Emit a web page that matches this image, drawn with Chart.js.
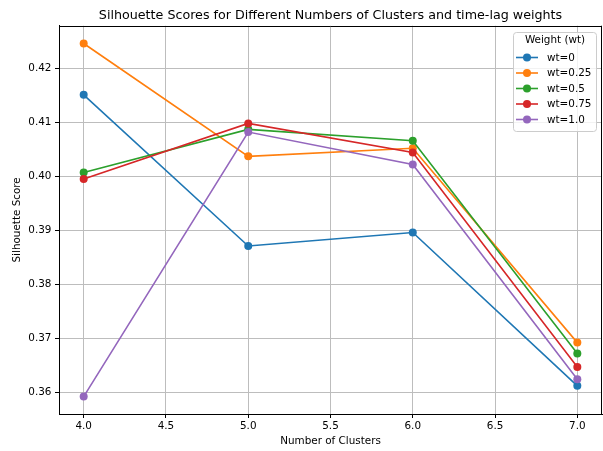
<!DOCTYPE html>
<html>
<head>
<meta charset="utf-8">
<title>Silhouette Scores</title>
<script src="https://cdn.jsdelivr.net/npm/chart.js@4/dist/chart.umd.min.js"></script>
<style>
  html, body { margin: 0; padding: 0; background: #fff; overflow: hidden; }
  #wrap { width: 606px; height: 451px; }
</style>
</head>
<body>
<div id="wrap"><canvas id="scoreChart" width="606" height="451"></canvas></div>
<script>
// Cluster counts and silhouette scores per time-lag weight
const clusters = [4, 5, 6, 7];
const wt0   = [0.4151, 0.3871, 0.3896, 0.3612];
const wt025 = [0.4246, 0.4037, 0.4052, 0.3692];
const wt05  = [0.4007, 0.4087, 0.4066, 0.3672];
const wt075 = [0.3995, 0.4098, 0.4044, 0.3647];
const wt10  = [0.3592, 0.4082, 0.4022, 0.3624];

const seriesLabels = ['wt=0', 'wt=0.25', 'wt=0.5', 'wt=0.75', 'wt=1.0'];
const seriesColors = ['#1f77b4', '#ff7f0e', '#2ca02c', '#d62728', '#9467bd'];

const xTicks = [4.0, 4.5, 5.0, 5.5, 6.0, 6.5, 7.0];
const yTicks = [0.36, 0.37, 0.38, 0.39, 0.40, 0.41, 0.42];

const FONT = "'DejaVu Sans', sans-serif";
const SMALL = 10.4;

const allSeries = [wt0, wt025, wt05, wt075, wt10];

const datasets = allSeries.map((vals, i) => ({
    label: seriesLabels[i],
    data: clusters.map((c, j) => ({ x: c, y: vals[j] })),
    borderColor: seriesColors[i],
    backgroundColor: seriesColors[i],
    borderWidth: 1.6,
    pointRadius: 4,
    pointBorderWidth: 0,
    pointHoverRadius: 4,
    tension: 0,
    order: allSeries.length - 1 - i // later series on top
}));

// Top and right spines
const frame = {
    id: 'frame',
    afterDatasetsDraw(chart) {
        const { ctx, chartArea } = chart;
        ctx.save();
        ctx.strokeStyle = '#000';
        ctx.lineWidth = 1;
        ctx.beginPath();
        ctx.moveTo(chartArea.left, Math.round(chartArea.top) + 0.5);
        ctx.lineTo(chartArea.right, Math.round(chartArea.top) + 0.5);
        ctx.moveTo(chartArea.right - 0.5, chartArea.top);
        ctx.lineTo(chartArea.right - 0.5, chartArea.bottom);
        ctx.stroke();
        ctx.restore();
    }
};

// Boxed legend inside the upper right corner of the plot
const boxLegend = {
    id: 'boxLegend',
    afterDraw(chart) {
        const { ctx, chartArea } = chart;
        const right = chartArea.right - 6;
        const top = Math.round(chartArea.top + 6);
        const w = 83, h = 99;
        const left = Math.round(right - w);
        ctx.save();
        ctx.fillStyle = 'rgba(255,255,255,0.8)';
        ctx.strokeStyle = '#cccccc';
        ctx.lineWidth = 1;
        ctx.beginPath();
        ctx.roundRect(left + 0.5, top + 0.5, w, h, 3);
        ctx.fill();
        ctx.stroke();

        ctx.font = SMALL + 'px ' + FONT;
        ctx.fillStyle = '#000';
        ctx.textBaseline = 'middle';
        ctx.textAlign = 'center';
        ctx.fillText('Weight (wt)', left + w / 2 + 0.5, top + 8.5);

        ctx.textAlign = 'left';
        chart.data.datasets.forEach((ds, i) => {
            const y = top + 25.5 + i * 15.5;
            const x0 = left + 3;
            const x1 = x0 + 22;
            ctx.strokeStyle = ds.borderColor;
            ctx.lineWidth = 1.6;
            ctx.beginPath();
            ctx.moveTo(x0, y);
            ctx.lineTo(x1, y);
            ctx.stroke();
            ctx.fillStyle = ds.borderColor;
            ctx.beginPath();
            ctx.arc((x0 + x1) / 2, y, 4, 0, Math.PI * 2);
            ctx.fill();
            ctx.fillStyle = '#000';
            ctx.fillText(ds.label, x1 + 9, y + 0.5);
        });
        ctx.restore();
    }
};

new Chart(document.getElementById('scoreChart'), {
    type: 'line',
    data: { datasets },
    plugins: [frame, boxLegend],
    options: {
        responsive: false,
        animation: false,
        layout: { padding: 0 },
        plugins: {
            legend: { display: false },
            tooltip: { enabled: false },
            title: {
                display: true,
                fullSize: false, // center over the plot area
                text: 'Silhouette Scores for Different Numbers of Clusters and time-lag weights',
                color: '#000',
                font: { family: FONT, size: 12.7, weight: 'normal', lineHeight: 1.2 },
                padding: { top: 8.4, bottom: 2.1 }
            }
        },
        scales: {
            x: {
                type: 'linear',
                min: 3.85,
                max: 7.15,
                afterFit: s => { s.height = 37; },
                afterBuildTicks: s => { s.ticks = xTicks.map(v => ({ value: v })); },
                ticks: {
                    color: '#000',
                    font: { family: FONT, size: SMALL },
                    padding: 2.5,
                    maxRotation: 0,
                    callback: v => Number(v).toFixed(1)
                },
                grid: { color: '#bdbdbd', lineWidth: 1, tickColor: '#000', tickLength: 4 },
                border: { color: '#000', width: 1 },
                title: {
                    display: true,
                    text: 'Number of Clusters',
                    color: '#000',
                    font: { family: FONT, size: SMALL, lineHeight: 1.2 },
                    padding: { top: 0, bottom: 3.8 }
                }
            },
            y: {
                type: 'linear',
                min: 0.35598,
                max: 0.42789,
                afterFit: s => { s.width = 59; },
                afterBuildTicks: s => { s.ticks = yTicks.map(v => ({ value: v })); },
                ticks: {
                    color: '#000',
                    font: { family: FONT, size: SMALL },
                    padding: 3.6,
                    callback: v => Number(v).toFixed(2)
                },
                grid: { color: '#bdbdbd', lineWidth: 1, tickColor: '#000', tickLength: 4 },
                border: { color: '#000', width: 1 },
                title: {
                    display: true,
                    text: 'Silhouette Score',
                    color: '#000',
                    font: { family: FONT, size: SMALL, lineHeight: 1.2 },
                    padding: { top: 10.8, bottom: 0 }
                }
            }
        }
    }
});
</script>
</body>
</html>
